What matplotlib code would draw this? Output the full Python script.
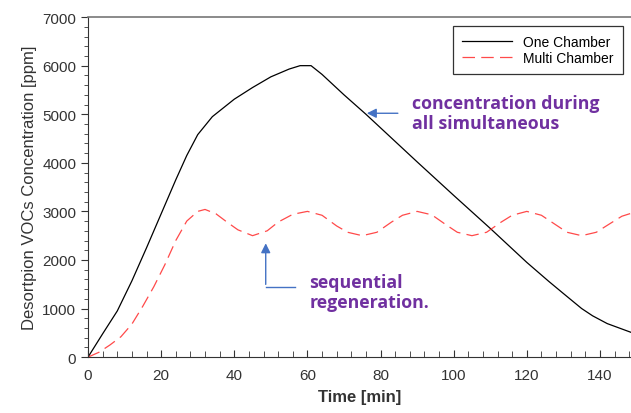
import numpy as np
import matplotlib.pyplot as plt

# One chamber (all simultaneous)
t_one = [0, 4, 8, 12, 16, 20, 24, 27, 30, 34, 40, 45, 50, 55, 58, 61, 64, 70,
         76, 80, 90, 100, 110, 120, 126, 130, 135, 138, 142, 148.5]
c_one = [0, 480, 950, 1570, 2250, 2950, 3650, 4150, 4580, 4950, 5310, 5550,
         5770, 5930, 6000, 6000, 5820, 5400, 5000, 4720, 4020, 3330, 2650,
         1950, 1560, 1310, 1000, 850, 690, 510]

# Multi chamber (sequential regeneration)
t_multi = [0, 3, 6, 9, 12, 15, 18, 21, 24, 27, 30, 32, 35, 38, 41, 45, 49, 52,
           56, 60, 64, 68, 71, 75, 79, 83, 86, 90, 94, 98, 101, 105, 109, 113,
           116, 120, 124, 128, 131, 135, 139, 143, 146, 148.5]
c_multi = [0, 100, 250, 420, 680, 1050, 1450, 1900, 2400, 2800, 3000, 3040,
           2950, 2780, 2620, 2500, 2600, 2780, 2940, 3000, 2920, 2700, 2570,
           2500, 2570, 2780, 2920, 3000, 2930, 2720, 2570, 2500, 2570, 2780,
           2920, 3000, 2920, 2720, 2570, 2500, 2570, 2760, 2900, 2960]

plt.rcParams['font.family'] = ['Liberation Sans', 'DejaVu Sans']

fig = plt.figure(figsize=(6.31, 4.14), dpi=100)
ax = fig.add_axes([0.1395, 0.135, 0.8605, 0.8213])

ax.plot(t_one, c_one, color='black', lw=0.9, label='One Chamber')
ax.plot(t_multi, c_multi, color='#ff2a2a', lw=0.9, dashes=(10, 5), alpha=0.85,
        label='Multi Chamber')

ax.set_xlim(0, 148.5)
ax.set_ylim(0, 7000)
ax.set_xticks(np.arange(0, 141, 20))
ax.set_xticks(np.arange(0, 149, 4), minor=True)
ax.set_yticks(np.arange(0, 7001, 1000))
ax.set_yticks(np.arange(0, 7001, 200), minor=True)
ax.tick_params(axis='x', which='both', direction='in', labelsize=11, colors='#333333', pad=8)
ax.tick_params(axis='x', which='major', length=5)
ax.tick_params(axis='x', which='minor', length=4)
ax.tick_params(axis='y', which='both', direction='out', labelsize=11, colors='#333333')
ax.tick_params(axis='y', which='major', length=5)
ax.tick_params(axis='y', which='minor', length=3)
for s in ['left', 'bottom']:
    ax.spines[s].set_color('#333333')
ax.spines['top'].set_color('#777777')
ax.spines['top'].set_linewidth(1.2)
ax.spines['right'].set_visible(False)

ax.set_xlabel('Time [min]', fontsize=12, fontweight='bold', color='#333333', labelpad=5)
ax.set_ylabel('Desortpion VOCs Concentration [ppm]', fontsize=12, color='#333333', labelpad=4)

leg = ax.legend(loc='upper right', bbox_to_anchor=(0.985, 0.975), fontsize=10,
                frameon=True, fancybox=False, edgecolor='black',
                handlelength=3.6, borderpad=0.65, labelspacing=0.15, borderaxespad=0)
leg.get_frame().set_linewidth(0.9)

purple = '#7030a0'
blue = '#4472c4'
txt_font = ['Open Sans', 'DejaVu Sans']
ax.annotate('', xy=(75.5, 5020), xytext=(85.5, 5020),
            arrowprops=dict(arrowstyle='-|>', color=blue, lw=1, mutation_scale=14))
ax.text(88.6, 5020, 'concentration during\nall simultaneous', color=purple,
        fontsize=12.8, fontweight='bold', family=txt_font,
        va='center', ha='left', linespacing=1.15)

ax.plot([56.6, 48.6], [1440, 1440], color=blue, lw=1)
ax.annotate('', xy=(48.6, 2400), xytext=(48.6, 1440),
            arrowprops=dict(arrowstyle='-|>', color=blue, lw=1, mutation_scale=14))
ax.text(60.5, 1340, 'sequential\nregeneration.', color=purple,
        fontsize=12.8, fontweight='bold', family=txt_font,
        va='center', ha='left', linespacing=1.15)

fig.savefig('out.png', dpi=100)
plt.close(fig)
